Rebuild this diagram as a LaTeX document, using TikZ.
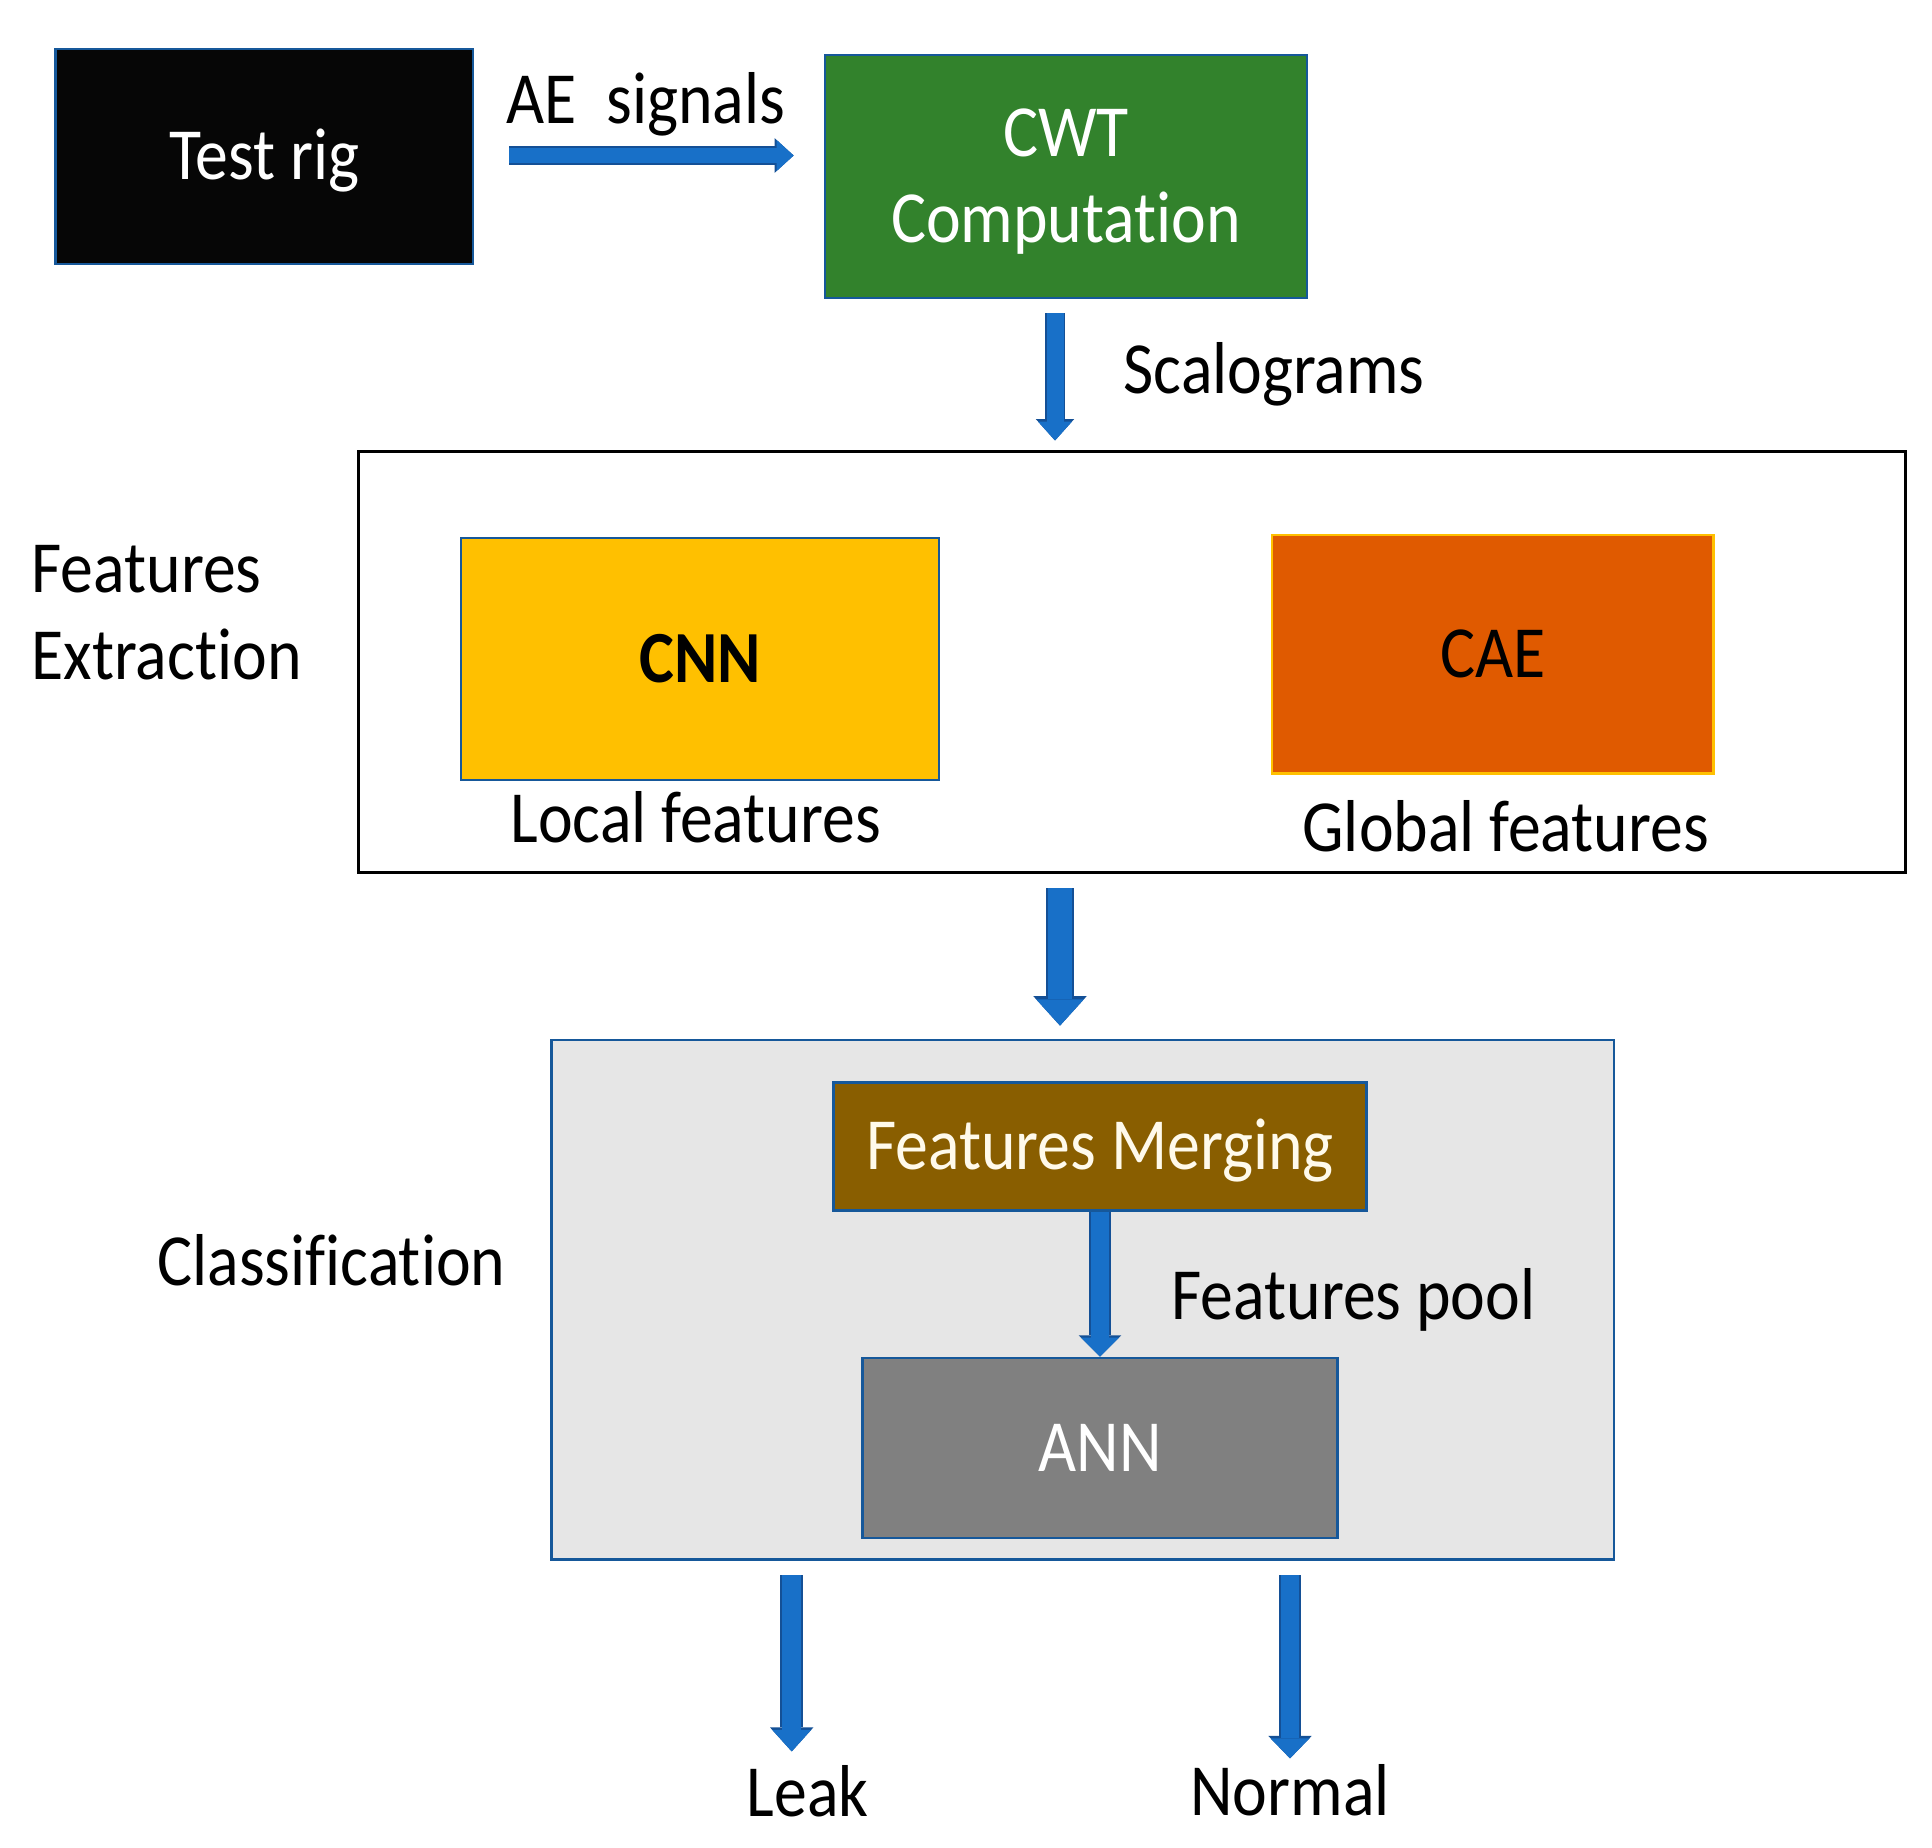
\documentclass[tikz,border=0pt]{standalone}
\usepackage{fontspec}
\setmainfont{Carlito}[FakeStretch=0.895, Ligatures=NoCommon]
\usetikzlibrary{arrows.meta,calc}
\definecolor{boxblue}{RGB}{22,88,154}
\definecolor{rigblack}{RGB}{6,6,6}
\definecolor{cwtgreen}{RGB}{50,130,44}
\definecolor{cnnyellow}{RGB}{255,192,0}
\definecolor{caeorange}{RGB}{224,90,0}
\definecolor{clsgray}{RGB}{230,230,230}
\definecolor{fmbrown}{RGB}{137,94,0}
\definecolor{fmtext}{RGB}{255,250,235}
\definecolor{anngray}{RGB}{128,128,128}
\definecolor{arrowfill}{RGB}{24,112,200}
\definecolor{arrowedge}{RGB}{20,80,150}
\def\u{0.4pt}
\tikzset{
  txt/.style={font=\fontsize{29.4pt}{34.4pt}\selectfont, inner sep=0pt, text height=18.58pt, text depth=0pt},
  box/.style={txt, rectangle, draw=boxblue, line width=1.1pt},
  lbl/.style={txt, text=black},
  barrow/.style n args={3}{draw=arrowfill, line width=#1, line cap=butt,
    -{Triangle[width=#2,length=#3,line width=0pt,fill=arrowfill]},
    preaction={draw=arrowedge, line width=#1+1.4pt,
      -{Triangle[width=#2,length=#3,line width=0pt,scale=1.12,fill=arrowedge]}}}
}
\begin{document}
\begin{tikzpicture}[x=0.4pt,y=-0.4pt]
\useasboundingbox[fill=white] (0,0) rectangle (1932,1847);
% boxes
\node[box, fill=rigblack, text=white, minimum width=417.5*\u, minimum height=215*\u] (rig) at (264.3,156.5) {Test rig};
\node[box, fill=cwtgreen, text=white, align=center, text height=52.98pt, minimum width=482*\u, minimum height=243*\u] (cwt) at (1066,176.5) {CWT\\Computation};
\node[box, draw=black, line width=1.2pt, fill=white, minimum width=1546.4*\u, minimum height=421*\u] (feat) at (1131.8,662.2) {};
\node[box, fill=cnnyellow, minimum width=478*\u, minimum height=242*\u] (cnn) at (700,659) {\bfseries CNN};
\node[box, fill=caeorange, draw=cnnyellow, minimum width=441.4*\u, minimum height=238.3*\u] (cae) at (1492.7,654.2) {CAE};
\node[box, fill=clsgray, minimum width=1062.6*\u, minimum height=519.6*\u] (cls) at (1082.7,1299.8) {};
\node[box, fill=fmbrown, text=fmtext, minimum width=533*\u, minimum height=128*\u] (fm) at (1100,1146.6) {Features Merging};
\node[box, fill=anngray, text=white, minimum width=475*\u, minimum height=180*\u] (ann) at (1100,1448) {ANN};
% labels
\node[lbl, anchor=base west] (ae) at (506,123) {AE\ \ signals};
\node[lbl, anchor=base west] (scal) at (1123,393) {Scalograms};
\node[lbl, anchor=base west] (fe1) at (31,592.7) {Features};
\node[lbl, anchor=base west] (fe2) at (31,679.3) {Extraction};
\node[lbl, anchor=base] (lf) at (695.7,842.7) {Local features};
\node[lbl, anchor=base] (gf) at (1505.7,851.7) {Global features};
\node[lbl, anchor=base west] (clsl) at (157,1285.4) {Classification};
\node[lbl, anchor=base west] (pool) at (1171,1319.4) {Features pool};
\node[lbl, anchor=base] (leak) at (807.7,1816.7) {Leak};
\node[lbl, anchor=base] (normal) at (1290,1815) {Normal};
% arrows
\draw[barrow={6pt}{12.4pt}{6.8pt}] ($(rig.east)+(35,-1)$) -- ($(cwt.west |- rig.east)+(-30,-1)$);
\draw[barrow={6.8pt}{13.6pt}{7.6pt}] ($(cwt.south)+(-11,14)$) -- ($(cwt.south |- feat.north)+(-11,-9.7)$);
\draw[barrow={9.8pt}{19pt}{10.5pt}] ($(feat.south -| cls.north)+(-22.7,14)$) -- ($(cls.north)+(-22.7,-13)$);
\draw[barrow={7.2pt}{15.2pt}{7.6pt}] (fm.south) -- (ann.north);
\draw[barrow={7.6pt}{15.5pt}{8.6pt}] ($(cls.south -| leak.north)+(-16,14.4)$) -- ($(leak.north)+(-16,-18.3)$);
\draw[barrow={7.4pt}{15.5pt}{8pt}] ($(cls.south -| normal.north)+(0,14.4)$) -- ($(normal.north)+(0,-9.7)$);
\end{tikzpicture}
\end{document}
